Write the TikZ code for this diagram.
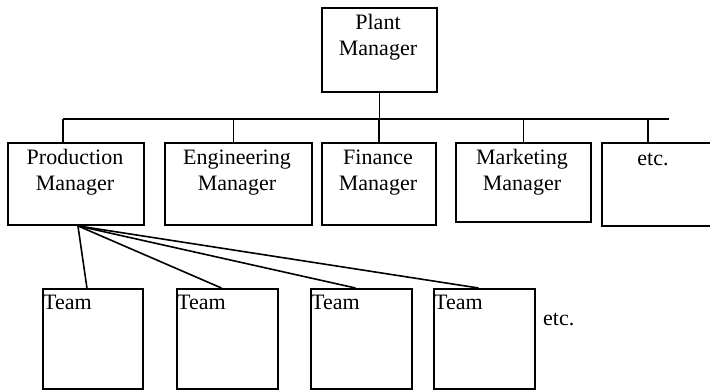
\documentclass[tikz,border=0pt]{standalone}
\usepackage{fontspec}
\setmainfont{Liberation Serif}
\begin{document}
\begin{tikzpicture}[x=1pt,y=-1pt,
  box/.style={draw, line width=1.9pt, inner sep=0pt, anchor=north west},
  lbl/.style={font=\fontsize{22}{25.5}\selectfont, inner sep=0pt, align=center, anchor=base},
  tlbl/.style={font=\fontsize{22}{25.5}\selectfont, inner sep=0pt, anchor=base west},
  link/.style={line width=1.6pt}]
\useasboundingbox (0,0) rectangle (710,389);
\begin{scope}
\clip (0,0) rectangle (710,389);
% boxes
\node[box, minimum width=115, minimum height=84] (plant) at (321,7) {};
\node[box, minimum width=136, minimum height=82] (prod) at (7,142) {};
\node[box, minimum width=147, minimum height=82] (eng) at (164,142) {};
\node[box, minimum width=114, minimum height=82] (fin) at (321,142) {};
\node[box, minimum width=135, minimum height=79] (mkt) at (455,142) {};
\node[box, minimum width=112, minimum height=83] (etcb) at (601,142) {};
\node[box, minimum width=100, minimum height=100] (t1) at (42,288) {};
\node[box, minimum width=101, minimum height=100] (t2) at (176,288) {};
\node[box, minimum width=101, minimum height=100] (t3) at (310,288) {};
\node[box, minimum width=101, minimum height=100] (t4) at (433,288) {};
% labels (base anchor = baseline of last line)
\node[lbl] (plantT) at (378,55) {Plant\\Manager};
\node[lbl] (prodT) at (75,190) {Production\\Manager};
\node[lbl] (engT) at (237,190) {Engineering\\Manager};
\node[lbl] (finT) at (378,190) {Finance\\Manager};
\node[lbl] (mktT) at (522,190) {Marketing\\Manager};
\node[lbl] (etcT) at (653,165) {etc.};
\node[tlbl] (t1T) at (43,309) {Team};
\node[tlbl] (t2T) at (177,309) {Team};
\node[tlbl] (t3T) at (311,309) {Team};
\node[tlbl] (t4T) at (434,309) {Team};
\node[tlbl] (etcTeam) at (543,325) {etc.};
% bus
\coordinate (busL) at (63,119);
\coordinate (busR) at (669,119);
\draw[link] (plant.south) -- (plant.south |- busL);
\draw[link] (busL) -- (busR);
\draw[link] (busL) -- (busL |- prod.north);
\draw[link] ([xshift=-5pt]eng.north |- busL) -- ([xshift=-5pt]eng.north);
\draw[link] (fin.north |- busL) -- (fin.north);
\draw[link] (mkt.north |- busL) -- (mkt.north);
\draw[link] ([xshift=-10pt]etcb.north |- busL) -- ([xshift=-10pt]etcb.north);
% fan to teams
\coordinate (apex) at ([xshift=2pt]prod.south);
\draw[link] (apex) -- ([xshift=-6pt]t1.north);
\draw[link] (apex) -- ([xshift=-6pt]t2.north);
\draw[link] (apex) -- ([xshift=-6pt]t3.north);
\draw[link] (apex) -- ([xshift=-6pt]t4.north);
\end{scope}
\end{tikzpicture}
\end{document}
